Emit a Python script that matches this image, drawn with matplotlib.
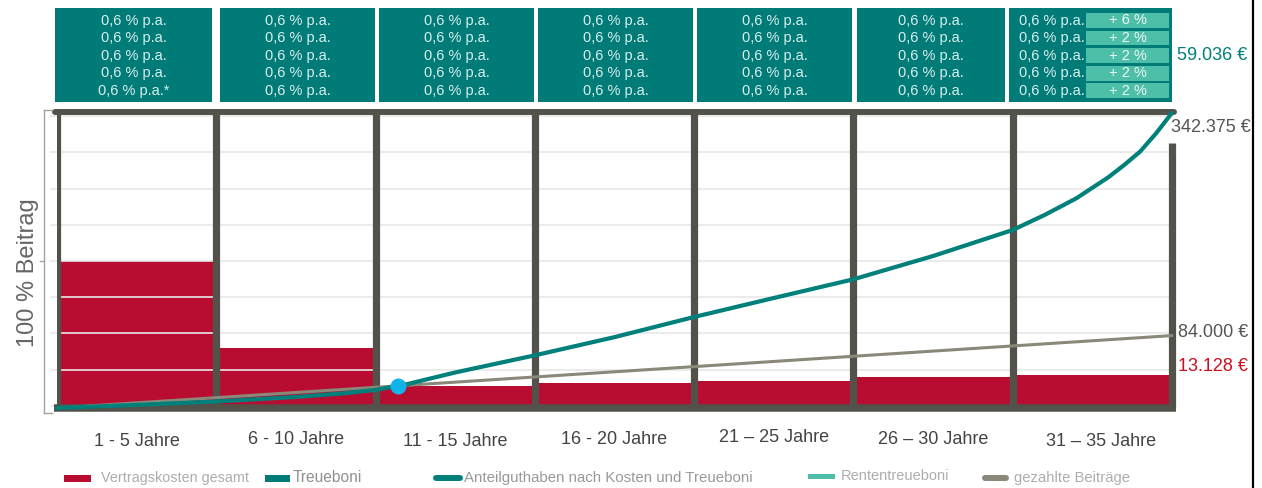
import matplotlib
matplotlib.use("Agg")
import matplotlib.pyplot as plt
import numpy as np
from matplotlib.patches import Rectangle
from matplotlib.lines import Line2D
from matplotlib.transforms import blended_transform_factory, offset_copy

plt.rcParams["font.family"] = ["Liberation Sans", "DejaVu Sans"]

# ---- data -------------------------------------------------------------
perioden = ["1 - 5 Jahre", "6 - 10 Jahre", "11 - 15 Jahre", "16 - 20 Jahre",
            "21 – 25 Jahre", "26 – 30 Jahre", "31 – 35 Jahre"]
jahr_grenzen = [0, 5, 10, 15, 20, 25, 30, 35]

# contract costs per period, in % of the contribution
kosten_pct = [50, 20, 7.0, 7.9, 8.5, 10.0, 10.7]

# unit balance after costs and loyalty bonuses (EUR)
guthaben_jahre = [0, 2.5, 5, 7.5, 9, 10, 11, 12.5, 15, 17.5, 20, 22.5, 25,
                  27.5, 30, 31, 32, 33, 33.5, 34, 34.5, 35]
guthaben_eur = [0, 3600, 7500, 12800, 17000, 21000, 27800, 41200, 61100,
                82200, 105600, 127600, 149300, 176300, 206500, 223900,
                243300, 267600, 281900, 297500, 318600, 342375]

# paid contributions (EUR)
beitrag_jahre = [0, 5, 10, 15, 20, 25, 30, 35]
beitrag_eur = [0, 12000, 24000, 36000, 48000, 60000, 72000, 84000]

# loyalty bonus rates per period
treueboni = [["0,6 % p.a."] * 4 + ["0,6 % p.a.*"]] + [["0,6 % p.a."] * 5] * 6
rententreueboni = ["+ 6 %", "+ 2 %", "+ 2 %", "+ 2 %", "+ 2 %"]

rentenbonus_eur = 59036
kosten_gesamt_eur = 13128

# ---- style ------------------------------------------------------------
W, H = 1262, 488
RED = "#b80d30"
TEAL = "#007b78"
TEAL_LINE = "#00807a"
LIGHT_TEAL = "#4dbfa8"
FRAME = "#53524a"
GREY_LINE = "#8a8878"
GRID = "#e8e8e8"
BOX_TEXT = "#d9efec"

# pixel extents of the bonus boxes along the top
BOX_PX = [(55, 212), (220, 375), (379, 534), (538, 693), (697, 852),
          (857, 1005), (1009, 1172)]


def fx(x):
    return x / W


def fy(y):
    return 1 - y / H


def euro(v):
    return f"{v:,}".replace(",", ".") + " €"


fig = plt.figure(figsize=(W / 100, H / 100), dpi=100)
rect = [fx(57), fy(408), fx(1172) - fx(57), fy(112) - fy(408)]

# percentage axis: bars, grid and frame
ax = fig.add_axes(rect)
ax.set_xlim(0, 35)
ax.set_ylim(-0.7, 101.4)
ax.axis("off")

starts = jahr_grenzen[:-1]
widths = np.diff(jahr_grenzen)
ax.bar(starts, kosten_pct, width=widths, align="edge", color=RED,
       linewidth=0, zorder=1)

for g in np.arange(0, 100.1, 12.5):
    ax.plot([-0.2, 35], [g, g], color=GRID, lw=1.2, zorder=2, clip_on=False)

ax.vlines(starts, -0.7, 101.4, color=FRAME, lw=5.2, zorder=3)
ax.vlines(jahr_grenzen[-1], -0.7, 90.7, color=FRAME, lw=5.2, zorder=3,
          clip_on=False)
ax.plot([-0.06, 35.05], [101.4, 101.4], color=FRAME, lw=4.3,
        solid_capstyle="round", zorder=3, clip_on=False)
ax.plot([-0.09, 35.12], [-0.7, -0.7], color=FRAME, lw=5.4,
        solid_capstyle="butt", zorder=3, clip_on=False)

# euro axis: contribution and balance lines
ax2 = fig.add_axes(rect, facecolor="none")
ax2.set_xlim(0, 35)
ax2.set_ylim(0, 343360)
ax2.axis("off")

ax2.plot(beitrag_jahre, beitrag_eur, color=GREY_LINE, lw=2.2,
         solid_capstyle="round", zorder=4, clip_on=False)
ax2.plot(guthaben_jahre, guthaben_eur, color=TEAL_LINE, lw=3.0,
         solid_capstyle="round", solid_joinstyle="round", zorder=5,
         clip_on=False)

# break-even point where the balance overtakes the paid contributions
grid_x = np.linspace(0.5, 35, 3000)
diff = np.interp(grid_x, guthaben_jahre, guthaben_eur) - \
    np.interp(grid_x, beitrag_jahre, beitrag_eur)
i = np.argmax(diff > 0)
x_be = grid_x[i]
y_be = np.interp(x_be, beitrag_jahre, beitrag_eur)
ax2.plot([x_be], [y_be], "o", ms=11.5, color="#10b4e8", mec="none",
         zorder=6, clip_on=False)

# value labels at the right edge
ax2.annotate(euro(guthaben_eur[-1]), (guthaben_jahre[-1], guthaben_eur[-1]),
             xytext=(-1, -15), textcoords="offset pixels", ha="left",
             va="center", fontsize=13, color="#555555", zorder=7,
             annotation_clip=False)
ax2.annotate(euro(beitrag_eur[-1]), (beitrag_jahre[-1], beitrag_eur[-1]),
             xytext=(6, 3), textcoords="offset pixels", ha="left",
             va="center", fontsize=13, color="#555555", annotation_clip=False)
ax.annotate(euro(kosten_gesamt_eur), (35, kosten_pct[-1]),
            xytext=(6, 8), textcoords="offset pixels", ha="left",
            va="center", fontsize=13, color="#cc1020", annotation_clip=False)
fig.text(fx(1177), fy(55), euro(rentenbonus_eur), ha="left", va="center",
         fontsize=13, color=TEAL_LINE)

# bonus boxes above each period
row_y = [20.5, 38.0, 55.7, 73.3, 90.8]
n = len(BOX_PX)
for k, (left, right) in enumerate(BOX_PX):
    fig.add_artist(Rectangle((fx(left), fy(102)), fx(right) - fx(left),
                             fy(8) - fy(102), color=TEAL, lw=0, zorder=1))
    if k < n - 1:
        for r, txt in zip(row_y, treueboni[k]):
            fig.text(fx((left + right) / 2), fy(r), txt, ha="center",
                     va="center", fontsize=10.5, color=BOX_TEXT, zorder=2)
    else:
        sub_l, sub_r = 1086, 1169
        for r, txt, bon in zip(row_y, treueboni[k], rententreueboni):
            fig.text(fx(sub_l - 1), fy(r), txt, ha="right", va="center",
                     fontsize=10.5, color=BOX_TEXT, zorder=2)
            fig.add_artist(Rectangle((fx(sub_l), fy(r + 7.3)),
                                     fx(sub_r) - fx(sub_l),
                                     fy(r - 7.3) - fy(r + 7.3),
                                     color=LIGHT_TEAL, lw=0, zorder=2))
            fig.text(fx((sub_l + sub_r) / 2), fy(r), bon, ha="center",
                     va="center", fontsize=10.5, color="#eef8f4", zorder=3)

# period labels under the chart
bt = blended_transform_factory(ax.transData, fig.transFigure)
label_dx = [0, 0, 0, 0, 0, 0, 9]
label_dy = [441, 440, 441, 440, 438, 440, 441]
for k, (s, e) in enumerate(zip(jahr_grenzen[:-1], jahr_grenzen[1:])):
    t = offset_copy(bt, fig=fig, x=label_dx[k], y=0, units="dots")
    fig.text((s + e) / 2, fy(label_dy[k]), perioden[k], transform=t,
             ha="center", va="center", fontsize=13, color="#444444")

# left axis caption with bracket
fig.text(fx(28), fy(273), "100 % Beitrag", rotation=90, ha="center",
         va="center", fontsize=17, color="#666666")
br = "#a5a49a"
for xs, ys in [([44, 44], [110, 413]), ([44, 52], [110, 110]),
               ([44, 52], [413, 413]), ([40, 44], [261, 261])]:
    fig.add_artist(Line2D([fx(v) for v in xs], [fy(v) for v in ys],
                          color=br, lw=1.0))

# right border
fig.add_artist(Line2D([fx(1253), fx(1253)], [0, 1], color="black", lw=1.6))

# legend
LY = 478


def legend_rect(x0, x1, y0, y1, color):
    fig.add_artist(Rectangle((fx(x0), fy(y1)), fx(x1) - fx(x0),
                             fy(y0) - fy(y1), color=color, lw=0))


def legend_line(x0, x1, y, color):
    fig.add_artist(Line2D([fx(x0), fx(x1)], [fy(y), fy(y)], color=color,
                          lw=4.3, solid_capstyle="round"))


legend_rect(64, 91, 475.5, 481.5, RED)
fig.text(fx(101), fy(LY), "Vertragskosten gesamt", ha="left", va="center",
         fontsize=10.4, color="#adadad")
legend_rect(264.5, 290, 474.5, 481.5, TEAL)
fig.text(fx(293), fy(LY), "Treueboni", ha="left", va="center",
         fontsize=11.2, color="#8f8f8f")
legend_line(436, 460, LY, TEAL_LINE)
fig.text(fx(464), fy(LY), "Anteilguthaben nach Kosten und Treueboni",
         ha="left", va="center", fontsize=10.85, color="#999999")
legend_rect(808, 835, 473.5, 479, LIGHT_TEAL)
fig.text(fx(841), fy(476), "Rententreueboni", ha="left", va="center",
         fontsize=10.5, color="#adadad")
legend_line(985, 1006, LY, GREY_LINE)
fig.text(fx(1014), fy(LY), "gezahlte Beiträge", ha="left", va="center",
         fontsize=10.7, color="#adadad")

fig.savefig("out.png", dpi=100)
